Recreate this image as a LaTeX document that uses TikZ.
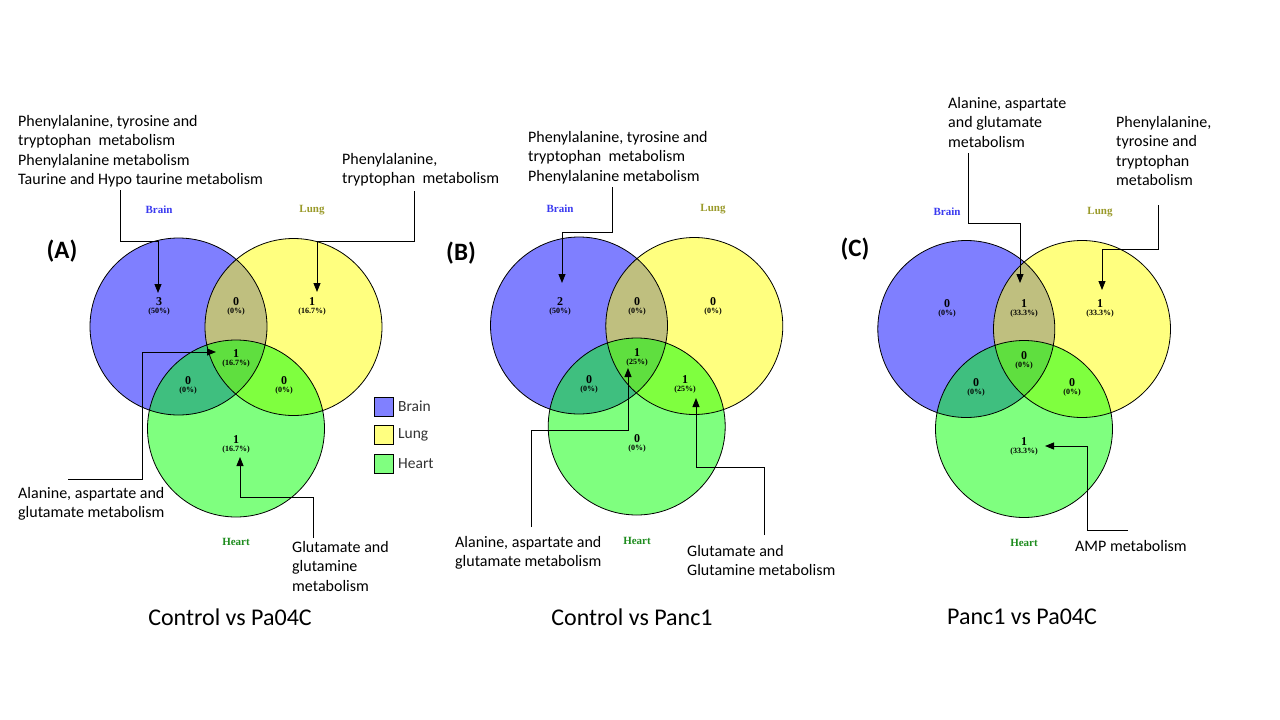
\documentclass[tikz,border=0pt]{standalone}
\usepackage{fontspec}
\setmainfont{Carlito}
\newfontfamily\vfont{Liberation Serif}
\usetikzlibrary{arrows.meta}
\definecolor{cBrain}{HTML}{0000FF}
\definecolor{cLung}{HTML}{FFFF00}
\definecolor{cHeart}{HTML}{00FF00}
\definecolor{tBrain}{HTML}{3A3AF0}
\definecolor{tLung}{HTML}{9A9A2A}
\definecolor{tHeart}{HTML}{1E8C1E}
\definecolor{lgBrain}{HTML}{8080FF}
\definecolor{lgLung}{HTML}{FFFF80}
\definecolor{lgHeart}{HTML}{80FF80}
\newcommand\vcount[5]{%
  \node[cntnum] (#1) at (#2,#3) {#4};
  \node[cntpct] (#1p) at (#2,#3+10) {(#5\%)};}
\begin{document}
\begin{tikzpicture}[x=1pt,y=-1pt,
  ldr/.style={draw=black, line width=0.9pt, -{Triangle[length=9pt,width=7pt]}},
  lbl/.style={anchor=north west, align=left, inner sep=0, font=\fontsize{16}{19.5}\selectfont},
  cntnum/.style={inner sep=0, font=\vfont\bfseries\fontsize{12}{12}\selectfont},
  cntpct/.style={inner sep=0, font=\vfont\bfseries\fontsize{8}{8}\selectfont},
  setlbl/.style={inner sep=0, font=\vfont\bfseries\fontsize{11}{11}\selectfont},
  ttl/.style={inner sep=0, font=\fontsize{24}{28}\selectfont},
  plbl/.style={inner sep=0, font=\bfseries\fontsize{25}{28}\selectfont},
  ring/.style={draw=black, line width=0.8pt},
  lgbox/.style={draw=black, line width=0.8pt, minimum width=19pt, minimum height=19pt, inner sep=0},
  lgtxt/.style={anchor=west, inner sep=0, font=\fontsize{15.5}{15.5}\selectfont, text=black!80}
]
\fill[white] (0,0) rectangle (1280,720);
\useasboundingbox (0,0) rectangle (1280,720);

% ---------------- Panel A ----------------
\coordinate (AB) at (178.5,326.5);
\coordinate (AL) at (293.5,327);
\coordinate (AH) at (236,428.5);
\fill[cBrain, fill opacity=0.5] (AB) circle (88.5pt);
\fill[cLung, fill opacity=0.5] (AL) circle (88.5pt);
\fill[cHeart, fill opacity=0.5] (AH) circle (88.5pt);
\draw[ring] (AB) circle (88.5pt) (AL) circle (88.5pt) (AH) circle (88.5pt);
\node[setlbl, text=tBrain] (AlB) at (159,210) {Brain};
\node[setlbl, text=tLung] (AlL) at (312,210) {Lung};
\node[setlbl, text=tHeart] (AlH) at (236,542) {Heart};
\vcount{nAb}{159}{302}{3}{50}
\vcount{nAbl}{236}{302}{0}{0}
\vcount{nAl}{312}{302}{1}{16.7}
\vcount{nAc}{236}{354}{1}{16.7}
\vcount{nAbh}{188}{381}{0}{0}
\vcount{nAlh}{284}{381}{0}{0}
\vcount{nAh}{236}{440}{1}{16.7}
\node[plbl] (pA) at (62,251) {(A)};
\node[ttl] (tiA) at (230,617) {Control vs Pa04C};

\node[lbl] (tA1) at (18,115) {Phenylalanine, tyrosine and\\tryptophan\ \ metabolism\\Phenylalanine metabolism\\Taurine and Hypo taurine metabolism};
\node[lbl] (tA2) at (342,153) {Phenylalanine,\\tryptophan\ \ metabolism};
\node[lbl] (tA3) at (18,487) {Alanine, aspartate and\\glutamate metabolism};
\node[lbl] (tA4) at (292,541) {Glutamate and\\glutamine\\metabolism};

\coordinate (sA1) at (120,190); \coordinate (eA1) at (158,293);
\draw[ldr] (sA1) |- (158,241) -- (eA1);
\coordinate (sA2) at (414,191); \coordinate (eA2) at (317,292);
\draw[ldr] (sA2) |- (317,241) -- (eA2);
\coordinate (sA3) at (68,479); \coordinate (eA3) at (216,352);
\draw[ldr] (sA3) -| (142,352) -- (eA3);
\coordinate (sA4) at (313,538); \coordinate (eA4) at (240,457);
\draw[ldr] (sA4) |- (240,497) -- (eA4);

% legend
\node[lgbox, fill=lgBrain] (lgB) at (384,407) {};
\node[lgbox, fill=lgLung] (lgL) at (384,435) {};
\node[lgbox, fill=lgHeart] (lgH) at (384,464) {};
\node[lgtxt] (lgBt) at (398,406) {Brain};
\node[lgtxt] (lgLt) at (398,435) {Lung};
\node[lgtxt] (lgHt) at (398,464) {Heart};

% ---------------- Panel B ----------------
\coordinate (BB) at (579,325.5);
\coordinate (BL) at (694.3,326);
\coordinate (BH) at (636.7,426.5);
\fill[cBrain, fill opacity=0.5] (BB) circle (88.5pt);
\fill[cLung, fill opacity=0.5] (BL) circle (88.5pt);
\fill[cHeart, fill opacity=0.5] (BH) circle (88.5pt);
\draw[ring] (BB) circle (88.5pt) (BL) circle (88.5pt) (BH) circle (88.5pt);
\node[setlbl, text=tBrain] (BlB) at (560,209) {Brain};
\node[setlbl, text=tLung] (BlL) at (713,209) {Lung};
\node[setlbl, text=tHeart] (BlH) at (637,541) {Heart};
\vcount{nBb}{560}{302}{2}{50}
\vcount{nBbl}{637}{302}{0}{0}
\vcount{nBl}{713}{302}{0}{0}
\vcount{nBc}{637}{353}{1}{25}
\vcount{nBbh}{589}{380}{0}{0}
\vcount{nBlh}{685}{380}{1}{25}
\vcount{nBh}{637}{439}{0}{0}
\node[plbl] (pB) at (461,253) {(B)};
\node[ttl] (tiB) at (632,617) {Control vs Panc1};

\node[lbl] (tB1) at (528,131) {Phenylalanine, tyrosine and\\tryptophan\ \ metabolism\\Phenylalanine metabolism};
\node[lbl] (tB2) at (455,536) {Alanine, aspartate and\\glutamate metabolism};
\node[lbl] (tB3) at (687,545) {Glutamate and\\Glutamine metabolism};

\coordinate (sB1) at (612,187); \coordinate (eB1) at (562,283);
\draw[ldr] (sB1) |- (562,232) -- (eB1);
\coordinate (sB2) at (531,527); \coordinate (eB2) at (628,368);
\draw[ldr] (sB2) |- (628,430) -- (eB2);
\coordinate (sB3) at (764,535); \coordinate (eB3) at (696,398);
\draw[ldr] (sB3) |- (696,467) -- (eB3);

% ---------------- Panel C ----------------
\coordinate (CB) at (966.3,329);
\coordinate (CL) at (1082,329);
\coordinate (CH) at (1024,429);
\fill[cBrain, fill opacity=0.5] (CB) circle (88.5pt);
\fill[cLung, fill opacity=0.5] (CL) circle (88.5pt);
\fill[cHeart, fill opacity=0.5] (CH) circle (88.5pt);
\draw[ring] (CB) circle (88.5pt) (CL) circle (88.5pt) (CH) circle (88.5pt);
\node[setlbl, text=tBrain] (ClB) at (947,212) {Brain};
\node[setlbl, text=tLung] (ClL) at (1100,212) {Lung};
\node[setlbl, text=tHeart] (ClH) at (1024,543) {Heart};
\vcount{nCb}{947}{304}{0}{0}
\vcount{nCbl}{1024}{304}{1}{33.3}
\vcount{nCl}{1100}{304}{1}{33.3}
\vcount{nCc}{1024}{356}{0}{0}
\vcount{nCbh}{976}{383}{0}{0}
\vcount{nClh}{1072}{383}{0}{0}
\vcount{nCh}{1024}{442}{1}{33.3}
\node[plbl] (pC) at (855,249) {(C)};
\node[ttl] (tiC) at (1022,617) {Panc1 vs Pa04C};

\node[lbl] (tC1) at (948,97) {Alanine, aspartate\\and glutamate\\metabolism};
\node[lbl] (tC2) at (1116,116) {Phenylalanine,\\tyrosine and\\tryptophan\\metabolism};
\node[lbl] (tC3) at (1075,540) {AMP metabolism};

\coordinate (sC1) at (968,153); \coordinate (eC1) at (1020,283);
\draw[ldr] (sC1) |- (1020,223) -- (eC1);
\coordinate (sC2) at (1158,205); \coordinate (eC2) at (1102,290);
\draw[ldr] (sC2) |- (1102,249) -- (eC2);
\coordinate (sC3) at (1128,530); \coordinate (eC3) at (1045,446);
\draw[ldr] (sC3) -| (1087,446) -- (eC3);
\end{tikzpicture}
\end{document}
